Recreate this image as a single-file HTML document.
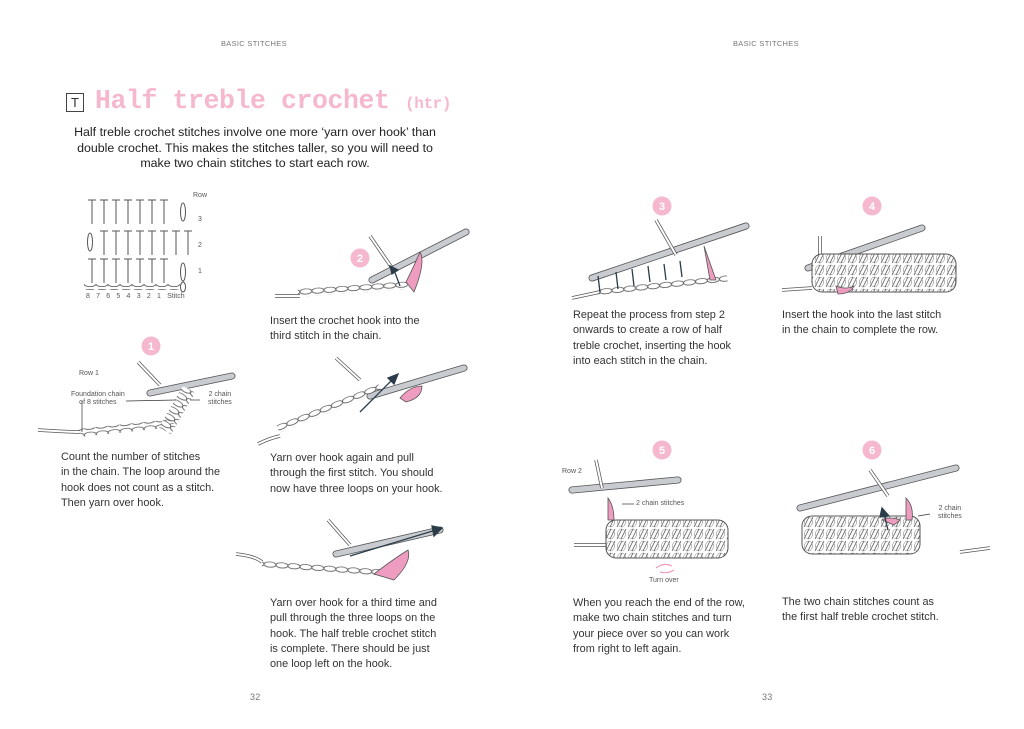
<!DOCTYPE html>
<html><head><meta charset="utf-8"><style>
body{margin:0;background:#fff;}
#p{position:relative;width:1024px;height:729px;overflow:hidden;background:#fff;font-family:"Liberation Sans",sans-serif;color:#333;}
.t{position:absolute;font-size:10.9px;line-height:15.3px;white-space:nowrap;color:#333;}
.h{position:absolute;font-size:7.5px;letter-spacing:0.3px;color:#777;}
.s{position:absolute;font-size:7px;color:#555;white-space:nowrap;line-height:8px}
svg{position:absolute;left:0;top:0}
</style></head><body><div id="p">
<svg width="1024" height="729" viewBox="0 0 1024 729">
<defs>
<pattern id="ch" width="12" height="8" patternUnits="userSpaceOnUse"><ellipse cx="6" cy="4" rx="6" ry="2.6" fill="#fff" stroke="#555" stroke-width="0.8"/></pattern>
<pattern id="fab" width="11" height="12" patternUnits="userSpaceOnUse"><rect width="11" height="12" fill="#fff"/><path d="M1 11 L6 1 M5 11 L10 1" stroke="#555" stroke-width="0.8" fill="none"/><ellipse cx="5.5" cy="6" rx="4" ry="5" fill="none" stroke="#777" stroke-width="0.5"/></pattern>
</defs>
<g stroke="#555" stroke-width="1" fill="none">
<path d="M88 200h8M92 200v24M100 200h8M104 200v24M112 200h8M116 200v24M124 200h8M128 200v24M136 200h8M140 200v24M148 200h8M152 200v24M160 200h8M164 200v24"/>
<ellipse cx="183" cy="212" rx="2.5" ry="9"/>
<path d="M100 231h8M104 231v24M112 231h8M116 231v24M124 231h8M128 231v24M136 231h8M140 231v24M148 231h8M152 231v24M160 231h8M164 231v24M172 231h8M176 231v24M184 231h8M188 231v24"/>
<ellipse cx="90" cy="242" rx="2.5" ry="9"/>
<path d="M88 259h8M92 259v24M100 259h8M104 259v24M112 259h8M116 259v24M124 259h8M128 259v24M136 259h8M140 259v24M148 259h8M152 259v24M160 259h8M164 259v24"/>
<ellipse cx="183" cy="272" rx="2.5" ry="9"/><ellipse cx="183" cy="287" rx="2.5" ry="5"/>
</g>
<rect x="84" y="284" width="96" height="6" fill="url(#ch)"/>
<g fill="#f5b8cf"><circle cx="151" cy="346" r="9.5"/><circle cx="360" cy="258" r="9.5"/><circle cx="662" cy="206" r="9.5"/><circle cx="872" cy="206" r="9.5"/><circle cx="662" cy="450" r="9.5"/><circle cx="872" cy="450" r="9.5"/></g>
<g fill="#fff" font-family="Liberation Sans" font-weight="bold" font-size="11" text-anchor="middle"><text x="151" y="350">1</text><text x="360" y="262">2</text><text x="662" y="210">3</text><text x="872" y="210">4</text><text x="662" y="454">5</text><text x="872" y="454">6</text></g>
<g stroke="#555" stroke-width="7" stroke-linecap="round" fill="none">
<path d="M150 393L232 376"/><path d="M372 280L466 232"/><path d="M370 396L464 368"/><path d="M336 554L440 530"/><path d="M592 278L746 226"/><path d="M808 268L922 228"/><path d="M572 490L678 480"/><path d="M800 508L956 468"/>
</g>
<g stroke="#c8cbd0" stroke-width="5.4" stroke-linecap="round" fill="none">
<path d="M150 393L232 376"/><path d="M372 280L466 232"/><path d="M370 396L464 368"/><path d="M336 554L440 530"/><path d="M592 278L746 226"/><path d="M808 268L922 228"/><path d="M572 490L678 480"/><path d="M800 508L956 468"/>
</g>
<g stroke="#555" stroke-width="3.5" fill="none"><path d="M38 430Q70 432 80 432"/><path d="M275 296L300 296"/><path d="M258 444Q270 438 280 436"/><path d="M236 554Q255 556 262 562"/><path d="M572 298L600 292"/><path d="M782 290L812 288"/><path d="M574 545L620 545"/><path d="M960 552L990 548"/><path d="M138 362L160 385"/><path d="M370 236L392 268"/><path d="M336 358L360 380"/><path d="M328 520L350 545"/><path d="M656 220L676 255"/><path d="M820 236L820 262"/><path d="M596 460L602 488"/><path d="M870 470L888 496"/></g>
<g stroke="#fff" stroke-width="2" fill="none"><path d="M38 430Q70 432 80 432"/><path d="M275 296L300 296"/><path d="M258 444Q270 438 280 436"/><path d="M236 554Q255 556 262 562"/><path d="M572 298L600 292"/><path d="M782 290L812 288"/><path d="M574 545L620 545"/><path d="M960 552L990 548"/><path d="M138 362L160 385"/><path d="M370 236L392 268"/><path d="M336 358L360 380"/><path d="M328 520L350 545"/><path d="M656 220L676 255"/><path d="M820 236L820 262"/><path d="M596 460L602 488"/><path d="M870 470L888 496"/></g>
<rect x="78" y="429" width="96" height="8" fill="url(#ch)" transform="rotate(-6 78 433)"/>
<rect x="170" y="386" width="14" height="48" fill="url(#ch)" transform="rotate(30 177 410)"/>
<rect x="298" y="289" width="110" height="8" fill="url(#ch)" transform="rotate(-4 298 293)"/>
<rect x="278" y="425" width="110" height="8" fill="url(#ch)" transform="rotate(-22 278 429)"/>
<rect x="262" y="560" width="120" height="8" fill="url(#ch)" transform="rotate(4 262 564)"/>
<rect x="598" y="288" width="130" height="8" fill="url(#ch)" transform="rotate(-6 598 292)"/>
<rect x="812" y="254" width="144" height="38" rx="10" fill="url(#fab)" stroke="#555"/>
<rect x="606" y="520" width="122" height="38" rx="10" fill="url(#fab)" stroke="#555"/>
<rect x="802" y="516" width="118" height="38" rx="10" fill="url(#fab)" stroke="#555"/>
<g fill="#ee9cbf" stroke="#555" stroke-width="0.8">
<path d="M406 282Q414 266 420 252Q426 262 414 292Z"/><path d="M400 398Q410 386 422 386Q422 398 406 402Z"/><path d="M374 574Q392 560 408 550Q412 562 394 580Z"/><path d="M704 246L716 280L710 280Z"/><path d="M836 286Q846 290 854 286Q850 294 838 294Z"/><path d="M608 498Q614 506 614 520L608 520Z"/><path d="M906 498Q914 506 912 520L906 520Z"/><path d="M882 520Q890 516 900 520L894 525Z"/>
</g>
<g stroke="#2b3d4a" stroke-width="1.3" fill="#2b3d4a">
<path d="M400 286L394 270" fill="none"/><path d="M390 266L398 270L392 274Z"/>
<path d="M360 412L394 378" fill="none"/><path d="M398 374L394 384L388 378Z"/>
<path d="M350 556L436 530" fill="none"/><path d="M442 528L434 536L432 526Z"/>
<path d="M888 530L884 514" fill="none"/><path d="M882 508L889 516L880 517Z"/>
<path d="M600 292L598 276M618 289L616 272M634 286L632 269M650 282L648 266M666 280L664 264M682 277L680 261" fill="none"/>
</g>
<path d="M656 568Q664 562 672 566M660 572Q668 574 674 570" stroke="#ee9cbf" stroke-width="1.2" fill="none"/>
<g stroke="#333" stroke-width="0.7" fill="none"><path d="M82 401L82 432"/><path d="M126 401L176 400"/><path d="M190 400L200 400"/><path d="M622 504L634 504"/><path d="M918 516L930 514"/></g>
<rect x="66.5" y="93.5" width="17" height="18" fill="none" stroke="#444"/>
</svg>
<div class="h" style="left:221px;top:39px">BASIC STITCHES</div>
<div class="h" style="left:733px;top:39px">BASIC STITCHES</div>
<div style="position:absolute;left:71px;top:95px;font-size:13px;color:#333">T</div>
<div style="position:absolute;left:95px;top:86px;font-family:'Liberation Mono',monospace;font-weight:bold;font-size:26.5px;color:#f5b8cf;letter-spacing:-0.4px;white-space:nowrap">Half treble crochet <span style="font-size:16px">(htr)</span></div>
<div style="position:absolute;left:40px;width:430px;top:125px;font-size:12.4px;line-height:15.6px;text-align:center;color:#222">Half treble crochet stitches involve one more ‘yarn over hook’ than<br>double crochet. This makes the stitches taller, so you will need to<br>make two chain stitches to start each row.</div>
<div class="s" style="left:193px;top:192px">Row</div>
<div class="s" style="left:198px;top:216px">3</div>
<div class="s" style="left:198px;top:242px">2</div>
<div class="s" style="left:198px;top:268px">1</div>
<div class="s" style="left:86px;top:293px;word-spacing:4.3px">8 7 6 5 4 3 2 1 Stitch</div>
<div class="s" style="left:79px;top:370px">Row 1</div>
<div class="s" style="left:71px;top:391px;text-align:center">Foundation chain<br>of 8 stitches</div>
<div class="s" style="left:208px;top:391px;text-align:center">2 chain<br>stitches</div>
<div class="s" style="left:562px;top:468px">Row 2</div>
<div class="s" style="left:636px;top:500px">2 chain stitches</div>
<div class="s" style="left:938px;top:505px;text-align:center">2 chain<br>stitches</div>
<div class="s" style="left:649px;top:577px">Turn over</div>
<div class="t" style="left:61px;top:450px">Count the number of stitches<br>in the chain. The loop around the<br>hook does not count as a stitch.<br>Then yarn over hook.</div>
<div class="t" style="left:270px;top:314px">Insert the crochet hook into the<br>third stitch in the chain.</div>
<div class="t" style="left:270px;top:451px">Yarn over hook again and pull<br>through the first stitch. You should<br>now have three loops on your hook.</div>
<div class="t" style="left:270px;top:596px">Yarn over hook for a third time and<br>pull through the three loops on the<br>hook. The half treble crochet stitch<br>is complete. There should be just<br>one loop left on the hook.</div>
<div class="t" style="left:573px;top:308px">Repeat the process from step 2<br>onwards to create a row of half<br>treble crochet, inserting the hook<br>into each stitch in the chain.</div>
<div class="t" style="left:782px;top:308px">Insert the hook into the last stitch<br>in the chain to complete the row.</div>
<div class="t" style="left:573px;top:596px">When you reach the end of the row,<br>make two chain stitches and turn<br>your piece over so you can work<br>from right to left again.</div>
<div class="t" style="left:782px;top:595px">The two chain stitches count as<br>the first half treble crochet stitch.</div>
<div class="h" style="left:250px;top:692px;font-size:9px">32</div>
<div class="h" style="left:762px;top:692px;font-size:9px">33</div>
</div></body></html>
